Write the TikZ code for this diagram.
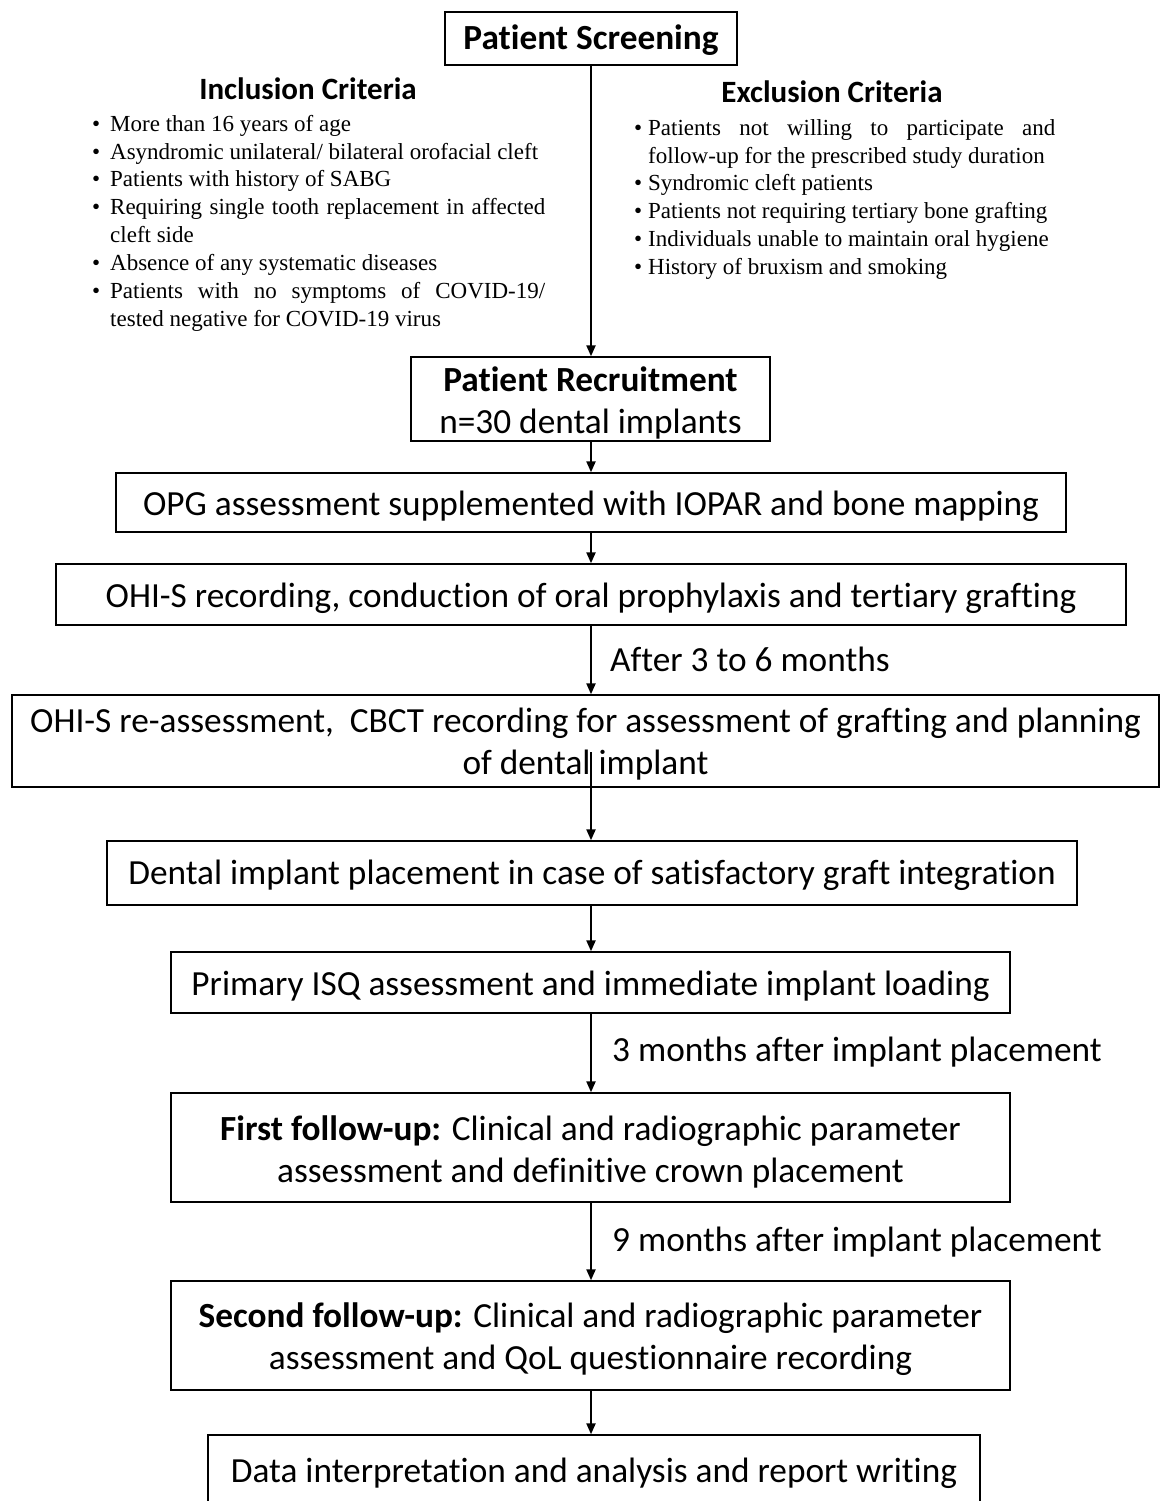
\documentclass[tikz,border=0pt]{standalone}
\usepackage{fontspec}
\setmainfont[Ligatures=NoCommon]{Carlito}
\newfontfamily\timesf{Liberation Serif}
\usetikzlibrary{arrows.meta}
\newcommand\critem[1]{\par\noindent\hangindent=#1\hangafter=1\makebox[#1][l]{\textbullet}}
\begin{document}
\begin{tikzpicture}[x=1pt,y=-1pt,
 frame/.style={draw=black, line width=1.4pt, inner sep=0pt},
 txt/.style={inner sep=0pt, align=center, font=\fontsize{35.3}{42}\selectfont},
 arr/.style={line width=2.2pt, -{Triangle[length=11pt,width=9pt]}},
 lbl/.style={anchor=west, inner sep=0pt, font=\fontsize{35.3}{42}\selectfont},
 head/.style={inner sep=0pt, font=\fontsize{31}{36}\selectfont\bfseries},
 crit/.style={anchor=north west, inner sep=0pt, align=justify, font=\timesf\fontsize{23}{27.9}\selectfont}
]
\useasboundingbox (0,0) rectangle (1160,1501);
\clip (0,0) rectangle (1160,1501);
\coordinate (spine) at (591,0);

% boxes
\node[frame, minimum width=292pt, minimum height=53pt] (screen) at (591,38.5) {};
\node[frame, minimum width=359pt, minimum height=84pt] (recruit) at (590.5,399) {};
\node[frame, minimum width=950pt, minimum height=59pt] (opg) at (591,502.5) {};
\node[frame, minimum width=1070pt, minimum height=61pt] (ohis) at (591,594.5) {};
\node[frame, minimum width=1147pt, minimum height=92pt] (reass) at (585.5,741) {};
\node[frame, minimum width=970pt, minimum height=64pt] (implant) at (592,873) {};
\node[frame, minimum width=839pt, minimum height=61pt] (isq) at (590.5,982.5) {};
\node[frame, minimum width=839pt, minimum height=109pt] (first) at (590.5,1147.5) {};
\node[frame, minimum width=839pt, minimum height=109pt] (second) at (590.5,1335.5) {};
\node[frame, minimum width=772pt, minimum height=80pt] (data) at (594,1475) {};

% box texts
\node[txt, font=\fontsize{35.3}{42}\selectfont\bfseries] (screent) at ([yshift=-2pt]screen.center) {Patient Screening};
\node[txt] (recruitt) at ([yshift=-3.5pt]recruit.center) {\textbf{Patient Recruitment}\\n=30 dental implants};
\node[txt] (opgt) at ([yshift=-3.5pt]opg.center) {OPG assessment supplemented with IOPAR and bone mapping};
\node[txt] (ohist) at ([yshift=-4pt]ohis.center) {OHI-S recording, conduction of oral prophylaxis and tertiary grafting};
\node[txt] (reasst) at ([yshift=-3.5pt]reass.center) {OHI-S re-assessment,\ \ CBCT recording for assessment\ of grafting and planning\\of dental implant};
\node[txt] (implantt) at ([yshift=-2pt]implant.center) {Dental implant placement in case of satisfactory graft integration};
\node[txt] (isqt) at ([yshift=-4pt]isq.center) {Primary ISQ assessment and immediate implant loading};
\node[txt] (firstt) at ([yshift=-4pt]first.center) {\textbf{First follow-up:} Clinical and radiographic parameter\\assessment\ and definitive crown placement};
\node[txt] (secondt) at ([yshift=-4pt]second.center) {\textbf{Second follow-up:} Clinical and radiographic parameter\\assessment and QoL questionnaire recording};
\node[txt] (datat) at (594,1473) {Data interpretation and analysis and report writing};

% criteria
\node[head] (inchead) at (308,89) {Inclusion Criteria};
\node[head] (exchead) at (832,92) {Exclusion Criteria};

\node[crit, text width=453pt] (inc) at (92,103) {%
\critem{18pt}\strut More than 16 years of age
\critem{18pt}Asyndromic unilateral/ bilateral orofacial cleft
\critem{18pt}Patients with history of SABG
\critem{18pt}Requiring single tooth replacement in affected\linebreak cleft side
\critem{18pt}Absence of any systematic diseases
\critem{18pt}Patients with no symptoms of COVID-19/\linebreak tested negative for COVID-19 virus\par};

\node[crit, text width=421pt] (exc) at (634,107) {%
\critem{14pt}\strut Patients not willing to participate and\linebreak follow-up for the prescribed study duration
\critem{14pt}Syndromic cleft patients
\critem{14pt}Patients not requiring tertiary bone grafting
\critem{14pt}Individuals unable to maintain oral hygiene
\critem{14pt}History of bruxism and smoking\par};

\coordinate (midstart) at (591,752);

% connectors
\draw[arr] (screen.south -| spine) -- (recruit.north -| spine);
\draw[arr] (recruit.south -| spine) -- (opg.north -| spine);
\draw[arr] (opg.south -| spine) -- (ohis.north -| spine);
\draw[arr] (ohis.south -| spine) -- (reass.north -| spine);
\draw[arr] (midstart) -- (implant.north -| spine);
\draw[arr] (implant.south -| spine) -- (isq.north -| spine);
\draw[arr] (isq.south -| spine) -- (first.north -| spine);
\draw[arr] (first.south -| spine) -- (second.north -| spine);
\draw[arr] (second.south -| spine) -- (data.north -| spine);

\node[lbl] (l1) at (610,659) {After\ 3 to 6 months};
\node[lbl] (l2) at (612,1052) {3 months after implant placement};
\node[lbl] (l3) at (612,1242) {9 months after implant placement};
\end{tikzpicture}
\end{document}
